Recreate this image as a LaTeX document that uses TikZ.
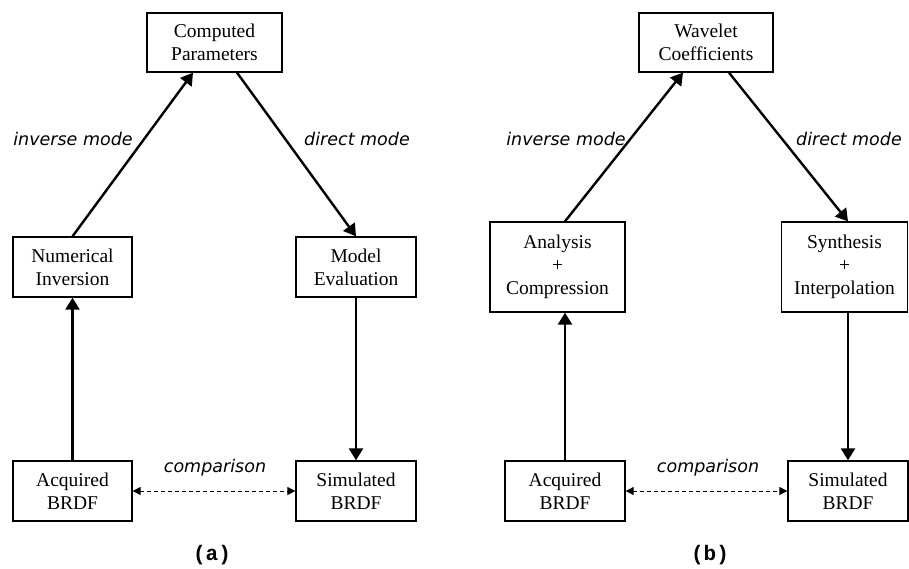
\documentclass[tikz,border=0pt]{standalone}
\usepackage{fontspec}
\setmainfont{Liberation Serif}
\newfontfamily\lblfont{DejaVu Sans}
\newfontfamily\capfont{Liberation Mono}
\usetikzlibrary{arrows.meta,calc}
\begin{document}
\begin{tikzpicture}[x=1pt,y=-1pt,
  box/.style={draw,line width=1.3pt,inner sep=0pt,align=center,
    font=\fontsize{19.5}{23}\selectfont},
  flow/.style={line width=2.4pt,-{Triangle[length=12pt,width=14pt]}},
  cmp/.style={line width=1pt,dash pattern=on 4pt off 3pt,
    {Triangle[length=8pt,width=8pt]}-{Triangle[length=8pt,width=8pt]}},
  lbl/.style={font=\lblfont\itshape\fontsize{17.5}{20}\selectfont},
  captxt/.style={font=\capfont\bfseries\fontsize{21}{24}\selectfont}]
\useasboundingbox (0,0) rectangle (909,569);
% panel (a)
\node[box,minimum width=135pt,minimum height=59pt] (atop) at (214.5,42.5) {Computed\\Parameters};
\node[box,minimum width=119pt,minimum height=60pt] (ani) at (72.5,267) {Numerical\\Inversion};
\node[box,minimum width=120pt,minimum height=60pt] (ame) at (356,267) {Model\\Evaluation};
\node[box,minimum width=119pt,minimum height=60pt] (aab) at (72.5,491) {Acquired\\BRDF};
\node[box,minimum width=120pt,minimum height=60pt] (asb) at (356,491) {Simulated\\BRDF};
\draw[flow] (ani.north) -- ([xshift=-21.5pt]atop.south);
\draw[flow] ([xshift=22.5pt]atop.south) -- (ame.north);
\draw[flow] (aab.north) -- (ani.south);
\draw[flow] (ame.south) -- (asb.north);
\draw[cmp] (aab.east) -- (asb.west);
\node[lbl] (ainv) at (73,139) {inverse mode};
\node[lbl] (adir) at (357,139) {direct mode};
\node[lbl] (acmp) at (215,468) {comparison};
\node[captxt] (acap) at (212,555) {(a)};
% panel (b)
\node[box,minimum width=134pt,minimum height=59pt] (btop) at (706,42.5) {Wavelet\\Coefficients};
\node[box,minimum width=135pt,minimum height=90pt] (bac) at (557.5,267) {Analysis\\+\\Compression};
\node[box,minimum width=126pt,minimum height=90pt] (bsi) at (844.5,267) {Synthesis\\+\\Interpolation};
\node[box,minimum width=120pt,minimum height=60pt] (bab) at (565,491) {Acquired\\BRDF};
\node[box,minimum width=120pt,minimum height=60pt] (bsb) at (848,491) {Simulated\\BRDF};
\draw[flow] (bab.north |- bac.north) -- ([xshift=-23pt]btop.south);
\draw[flow] ([xshift=23pt]btop.south) -- (bsb.north |- bsi.north);
\draw[flow] (bab.north) -- (bab.north |- bac.south);
\draw[flow] (bsb.north |- bsi.south) -- (bsb.north);
\draw[cmp] (bab.east) -- (bsb.west);
\node[lbl] (binv) at (566,139) {inverse mode};
\node[lbl] (bdir) at (849,139) {direct mode};
\node[lbl] (bcmp) at (708,468) {comparison};
\node[captxt] (bcap) at (710,555) {(b)};
\end{tikzpicture}
\end{document}
